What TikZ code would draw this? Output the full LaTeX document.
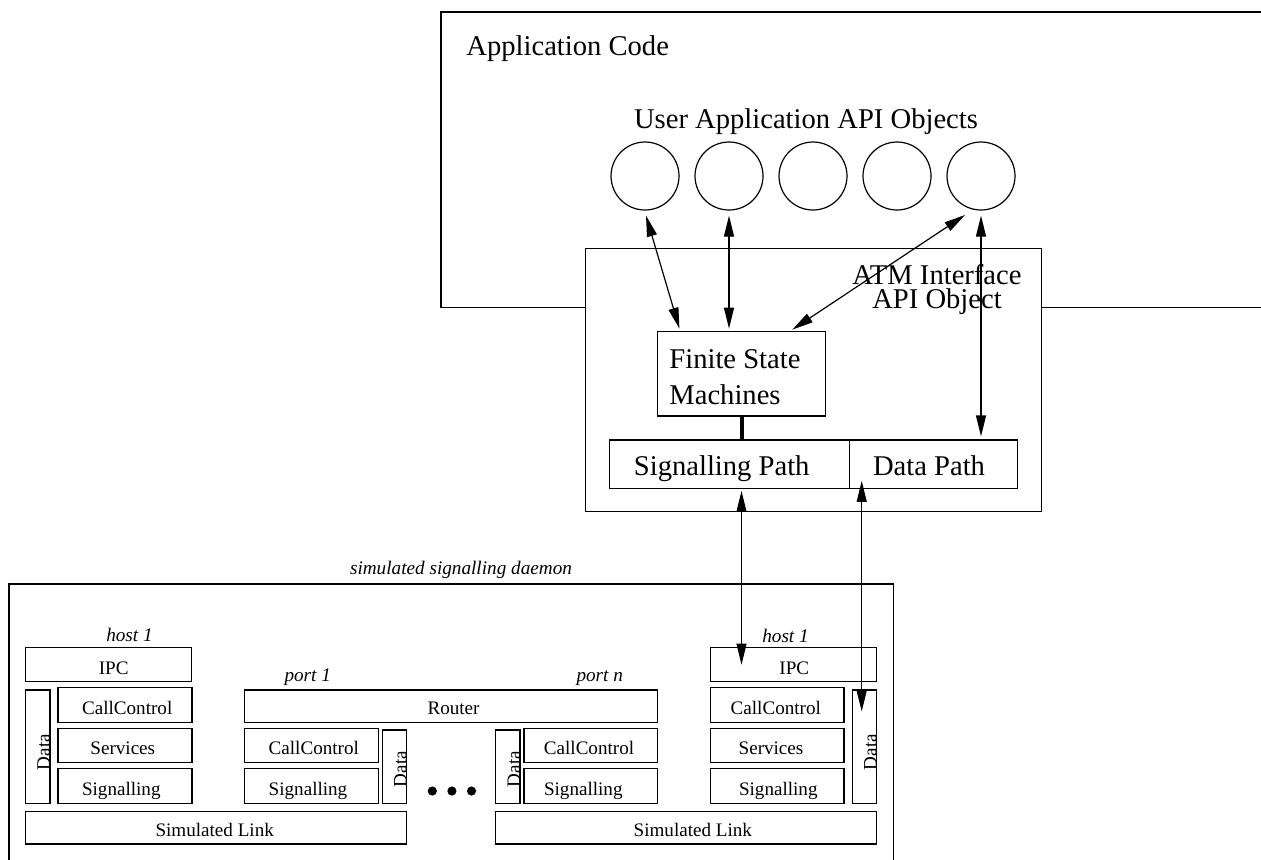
\documentclass[tikz,border=0pt]{standalone}
\usepackage{fontspec}
\setmainfont{Liberation Serif}
\usetikzlibrary{arrows.meta,fit,calc}
\begin{document}
\begin{tikzpicture}[x=0.5pt,y=-0.5pt,
  box/.style={draw, line width=0.6pt, inner sep=0pt, fill=white},
  obj/.style={draw, circle, line width=0.6pt, inner sep=0pt, minimum size=34pt},
  dot/.style={fill=black, circle, inner sep=0pt, minimum size=4.6pt},
  big/.style={font=\fontsize{14.3pt}{17pt}\selectfont, inner sep=0pt, text height=9.37pt, text depth=0pt},
  small/.style={font=\fontsize{9.55pt}{11pt}\selectfont, inner sep=0pt, text height=6.26pt, text depth=0pt},
  ital/.style={font=\fontsize{9.6pt}{11pt}\selectfont\itshape, inner sep=0pt, text height=6.3pt, text depth=0pt},
  dbl/.style={line width=0.6pt, {Triangle[length=10.5pt,width=5pt]}-{Triangle[length=10.5pt,width=5pt]}},
]
\useasboundingbox (0,0) rectangle (1261,859);
\fill[white] (0,0) rectangle (1261,859);
\clip (0,0) rectangle (1261,859);

% application code area
\node[box, fit={(441,12) (1320,307.5)}] (app) {};
\node[big, anchor=west] (apptxt) at (466,46) {Application Code};
\node[big] (usertxt) at (806,119) {User Application API Objects};
\node[obj] (c1) at (645,176) {};
\node[obj] (c2) at (729,176) {};
\node[obj] (c3) at (813,176) {};
\node[obj] (c4) at (897,176) {};
\node[obj] (c5) at (981,176) {};

% ATM interface object
\node[box, fit={(585.7,248.3) (1041.7,511.7)}] (atm) {};
\node[font=\fontsize{14.3pt}{12pt}\selectfont, inner sep=0pt, align=center] (atmtxt) at (937,289.7) {ATM Interface\\API Object};
\node[box, fit={(657.3,331.7) (825.7,416)}] (fsm) {};
\node[big, anchor=west] (fsmtxt1) at (669,359) {Finite State};
\node[big, anchor=west] (fsmtxt2) at (669,395) {Machines};
\node[box, fit={(609.3,440) (849.3,488.3)}] (sp) {};
\node[box, fit={(849.3,440) (1017.3,488.3)}] (dp) {};
\node[big] (sptxt) at (721.7,466) {Signalling Path};
\node[big] (dptxt) at (929,466) {Data Path};
\draw[line width=2pt] (fsm.south) -- (fsm.south |- sp.north);

% simulated signalling daemon
\node[box, fit={(9,584) (893.3,900)}] (dmn) {};
\node[ital] (dmntxt) at (461,568) {simulated signalling daemon};

% left host
\node[ital] (hostL) at (129.5,635) {host 1};
\node[box, fit={(25.7,647.3) (191.3,681.7)}] (ipcL) {};
\node[box, fit={(25.7,690) (50,803.3)}] (dataL) {};
\node[box, fit={(58,687.7) (192,722.3)}] (ccL) {};
\node[box, fit={(58,728.3) (192,762.7)}] (svL) {};
\node[box, fit={(58,768.7) (192,803.3)}] (sgL) {};
\node[box, fit={(25.7,811.7) (406.7,844)}] (linkL) {};
\node[small] (ipcLt) at (113.7,668) {IPC};
\node[small, rotate=90] (dataLt) at (43.7,752) {Data};
\node[small] (ccLt) at (127.2,708) {CallControl};
\node[small] (svLt) at (122.8,748.5) {Services};
\node[small] (sgLt) at (121.3,789) {Signalling};
\node[small] (linkLt) at (214.7,830) {Simulated Link};

% router and ports
\node[ital] (port1) at (307.7,675) {port 1};
\node[ital] (portn) at (599.7,675) {port n};
\node[box, fit={(244.3,690) (657.7,722.3)}] (router) {};
\node[small] (routert) at (453.5,708.5) {Router};
\node[box, fit={(244.3,728.3) (378.3,762.7)}] (cc1) {};
\node[box, fit={(244.3,768.7) (378.3,803.3)}] (sg1) {};
\node[box, fit={(382.3,730) (406.7,803.3)}] (data1) {};
\node[small] (cc1t) at (313.8,748.5) {CallControl};
\node[small] (sg1t) at (308,789) {Signalling};
\node[small, rotate=90] (data1t) at (400.3,769) {Data};
\node[dot] (d1) at (432.3,791) {};
\node[dot] (d2) at (451.9,791) {};
\node[dot] (d3) at (471.5,791) {};
\node[box, fit={(495.7,730) (520,803.3)}] (datan) {};
\node[box, fit={(524,728.3) (657.7,762.7)}] (ccn) {};
\node[box, fit={(524,768.7) (657.7,803.3)}] (sgn) {};
\node[small, rotate=90] (datant) at (513.8,769) {Data};
\node[small] (ccnt) at (589,748.5) {CallControl};
\node[small] (sgnt) at (583.3,789) {Signalling};
\node[box, fit={(495.7,811.7) (876.7,844)}] (linkR) {};
\node[small] (linkRt) at (692.8,830) {Simulated Link};

% right host
\node[ital] (hostR) at (785.5,636) {host 1};
\node[box, fit={(710.7,647.3) (876.7,681.7)}] (ipcR) {};
\node[box, fit={(710.7,687.7) (844,722.3)}] (ccR) {};
\node[box, fit={(710.7,728.3) (844,762.7)}] (svR) {};
\node[box, fit={(710.7,768.7) (844,803.3)}] (sgR) {};
\node[box, fit={(852.7,690) (876.7,803.3)}] (dataR) {};
\node[small] (ipcRt) at (794.3,668) {IPC};
\node[small] (ccRt) at (775.8,708) {CallControl};
\node[small] (svRt) at (771,748.5) {Services};
\node[small] (sgRt) at (778.3,789) {Signalling};
\node[small, rotate=90] (dataRt) at (870.3,752) {Data};

% connectors
\draw[dbl] ($(c1.south)+(1,5)$) -- ($(fsm.north west)+(22.7,-2.5)$);
\draw[dbl] ($(c2.south)+(0,5)$) -- ($(c2.south |- fsm.north)+(0,-2.5)$);
\draw[dbl] ($(fsm.north east)+(-34,-1.5)$) -- ($(c5)+(-16,39)$);
\draw[dbl] ($(c5.south)+(0,5)$) -- ($(c5.south |- dp.north)+(0,-3)$);
\draw[dbl] ($(fsm.south |- sp.south)+(0,2)$) -- ($(fsm.south |- ipcR.north)+(0,18)$);
\draw[dbl] ($(dataR.north |- sp.south)+(-3,-8)$) -- ($(dataR.north)+(-3,22)$);
\end{tikzpicture}
\end{document}
